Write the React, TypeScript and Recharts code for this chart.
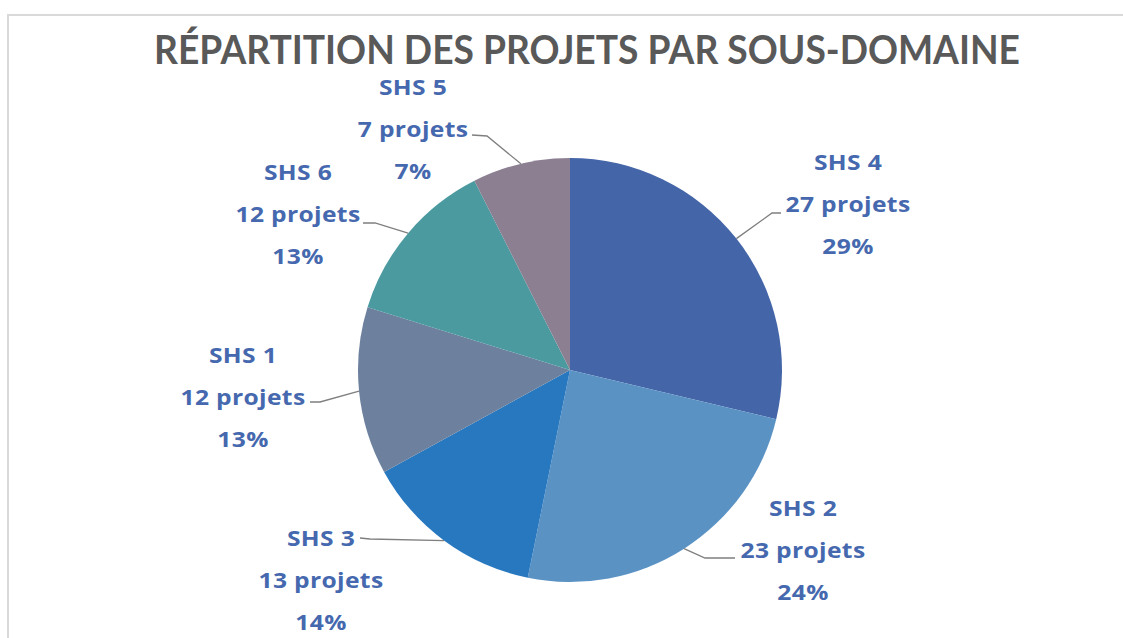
import React from "react"
import { PieChart, Pie, Cell } from "recharts"

const categories = ["SHS 4", "SHS 2", "SHS 3", "SHS 1", "SHS 6", "SHS 5"]
const projets = [27, 23, 13, 12, 12, 7]
const percents = ["29%", "24%", "14%", "13%", "13%", "7%"]

const COLORS = ["#4465a8", "#5a92c4", "#2878c0", "#6d819e", "#4a9aa0", "#8b7f91"]
const LABEL_COLOR = "#4568ae"

const data = categories.map((name, i) => ({ name, value: projets[i], pct: percents[i] }))

// label block placement relative to the pie centre (text centre x, first line y, elbow, attach)
const LABEL_LAYOUT = [
  { dx: 278, dy: -208, elbow: [202, -157], attach: [211, -157] },
  { dx: 233, dy: 138, elbow: [135, 188], attach: [165, 188] },
  { dx: -249, dy: 168, elbow: [-200, 169], attach: [-210, 168] },
  { dx: -327, dy: -15, elbow: [-250, 32], attach: [-260, 32] },
  { dx: -272, dy: -198, elbow: [-195, -147], attach: [-207, -147] },
  { dx: -157, dy: -283, elbow: [-83, -234], attach: [-98, -235] },
]
const LINE_GAP = 42

const RAD = Math.PI / 180

const renderLabel = (props: any) => {
  const { cx, cy, midAngle, outerRadius, index } = props
  const lay = LABEL_LAYOUT[index]
  const ex = cx + outerRadius * Math.cos(-midAngle * RAD)
  const ey = cy + outerRadius * Math.sin(-midAngle * RAD)
  const tx = cx + lay.dx
  const ty = cy + lay.dy
  const pts = `${ex},${ey} ${cx + lay.elbow[0]},${cy + lay.elbow[1]} ${cx + lay.attach[0]},${cy + lay.attach[1]}`
  const lines = [categories[index], `${projets[index]} projets`, percents[index]]
  return (
    <g>
      <polyline points={pts} fill="none" stroke="#7f7f7f" strokeWidth={1.3} />
      {lines.map((t, k) => (
        <text
          key={k}
          transform={`translate(${tx},${ty + k * LINE_GAP}) scale(1.12,1)`}
          x={0}
          y={0}
          textAnchor="middle"
          dominantBaseline="central"
          fill={LABEL_COLOR}
          fontFamily="'Open Sans', sans-serif"
          fontWeight={700}
          fontSize={22}
          letterSpacing={0.3}
        >
          {t}
        </text>
      ))}
    </g>
  )
}

export default function App() {
  return (
    <div style={{ position: "absolute", left: 0, top: 0, width: 1123, height: 638, background: "#fff" }}>
      <div
        style={{
          position: "absolute",
          left: 7,
          top: 14,
          right: 0,
          bottom: 0,
          borderTop: "2px solid #d9d9d9",
          borderLeft: "2px solid #d9d9d9",
        }}
      />
      <div style={{ position: "absolute", left: 0, top: 0 }}>
        <PieChart width={1123} height={638} margin={{ top: 0, right: 0, bottom: 0, left: 0 }}>
          <text
            x={587}
            y={64}
            textAnchor="middle"
            fill="#595959"
            fontFamily="Lato, sans-serif"
            fontWeight={700}
            fontSize={40}
            textLength={866}
            lengthAdjust="spacingAndGlyphs"
          >
            RÉPARTITION DES PROJETS PAR SOUS-DOMAINE
          </text>
          <Pie
            data={data}
            dataKey="value"
            nameKey="name"
            cx={570}
            cy={370}
            outerRadius={212}
            startAngle={90}
            endAngle={-270}
            stroke="none"
            label={renderLabel}
            labelLine={false}
            isAnimationActive={false}
          >
            {data.map((d, i) => (
              <Cell key={d.name} fill={COLORS[i]} />
            ))}
          </Pie>
        </PieChart>
      </div>
    </div>
  )
}
